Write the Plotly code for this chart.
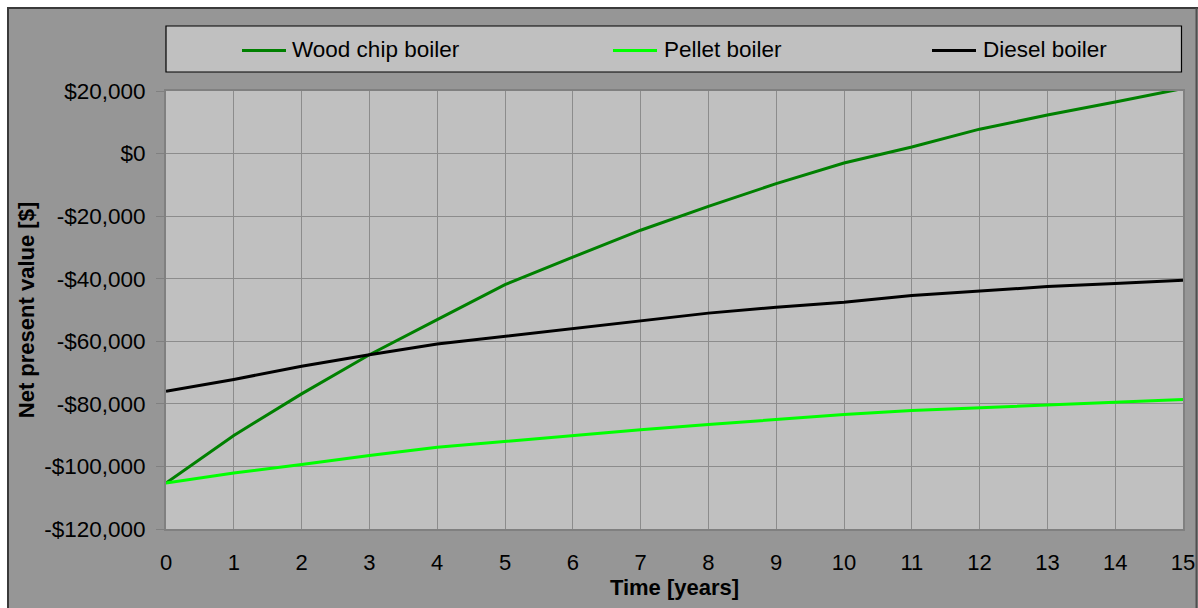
import plotly.graph_objects as go

# ---- data ----
years = list(range(16))
wood_chip = [-105300, -90100, -76800, -64300, -53100, -41900, -33100, -24500,
             -16900, -9600, -3000, 2100, 7800, 12300, 16500, 20800]
pellet = [-105300, -102100, -99400, -96500, -93900, -92000, -90100, -88300,
          -86600, -85000, -83400, -82100, -81200, -80200, -79500, -78600]
diesel = [-76000, -72200, -68000, -64300, -60900, -58400, -55800, -53300,
          -51000, -49100, -47500, -45400, -44000, -42500, -41500, -40500]

series_names = ["Wood chip boiler", "Pellet boiler", "Diesel boiler"]
series_colors = ["#008000", "#00FF00", "#000000"]
y_tick_vals = [20000, 0, -20000, -40000, -60000, -80000, -100000, -120000]
y_tick_labels = ["$20,000", "$0", "-$20,000", "-$40,000", "-$60,000",
                 "-$80,000", "-$100,000", "-$120,000"]
x_title = "Time [years]"
y_title = "Net present value [$]"

# ---- geometry (window pixels; body margin removed) ----
W, H = 1198, 608
L, R, T, B = 166, 15, 91, 79
PW, PH = W - L - R, H - T - B


def px(x):
    return (x - L) / PW


def py(y):
    return (H - B - y) / PH


FONT = "Liberation Sans, Arial, sans-serif"

fig = go.Figure()
for name, vals, col in zip(series_names, [wood_chip, pellet, diesel], series_colors):
    fig.add_trace(go.Scatter(x=years, y=vals, mode="lines", name=name,
                             line=dict(color=col, width=3), showlegend=False))

shapes = []
# white page edges at top and left
shapes.append(dict(type="rect", xref="paper", yref="paper", x0=px(-2), x1=px(W + 2),
                   y0=py(7), y1=py(-2), fillcolor="white", line=dict(width=0), layer="above"))
shapes.append(dict(type="rect", xref="paper", yref="paper", x0=px(-2), x1=px(7),
                   y0=py(H + 2), y1=py(-2), fillcolor="white", line=dict(width=0), layer="above"))
# frame
shapes.append(dict(type="line", xref="paper", yref="paper", x0=px(8), x1=px(8),
                   y0=py(H + 2), y1=py(7), line=dict(color="#3a3a3a", width=2), layer="above"))
shapes.append(dict(type="line", xref="paper", yref="paper", x0=px(7), x1=px(W + 2),
                   y0=py(8), y1=py(8), line=dict(color="#3a3a3a", width=2), layer="above"))
shapes.append(dict(type="line", xref="paper", yref="paper", x0=px(1196.5), x1=px(1196.5),
                   y0=py(H + 2), y1=py(8), line=dict(color="#505050", width=2), layer="above"))
# legend box
shapes.append(dict(type="rect", xref="paper", yref="paper", x0=px(166), x1=px(1181.5),
                   y0=py(72), y1=py(26), fillcolor="#C0C0C0",
                   line=dict(color="#000000", width=1.2), layer="above"))

annotations = []
leg_line_x = [242, 613, 932]
leg_text_x = [290, 662, 981]
for name, col, lx, tx in zip(series_names, series_colors, leg_line_x, leg_text_x):
    shapes.append(dict(type="line", xref="paper", yref="paper", x0=px(lx), x1=px(lx + 44),
                       y0=py(50.5), y1=py(50.5), line=dict(color=col, width=3), layer="above"))
    annotations.append(dict(xref="paper", yref="paper", x=px(tx), y=py(49.5),
                            xanchor="left", yanchor="middle", text=name, showarrow=False,
                            font=dict(family=FONT, size=22.5, color="#000000")))

fig.update_layout(
    width=W, height=H, autosize=False,
    margin=dict(l=L, r=R, t=T, b=B, pad=0, autoexpand=False),
    paper_bgcolor="#969696",
    plot_bgcolor="#C0C0C0",
    font=dict(family=FONT, size=22, color="#000000"),
    shapes=shapes,
    annotations=annotations,
    showlegend=False,
)
fig.update_xaxes(
    range=[0, 15], tickmode="array", tickvals=years, ticktext=[str(v) for v in years],
    automargin=False,
    showgrid=True, gridcolor="#8C8C8C", gridwidth=1,
    showline=True, linecolor="#808080", linewidth=2, mirror=True,
    ticks="", ticklabelstandoff=13, zeroline=False,
    tickfont=dict(family=FONT, size=22, color="#000000"),
    title=dict(text="<b>" + x_title + "</b>", standoff=4,
               font=dict(family=FONT, size=22, color="#000000")),
)
fig.update_yaxes(
    range=[-120000, 20000], tickmode="array", tickvals=y_tick_vals, ticktext=y_tick_labels,
    automargin=False,
    showgrid=True, gridcolor="#8C8C8C", gridwidth=1,
    showline=True, linecolor="#808080", linewidth=2, mirror=True,
    ticks="outside", ticklen=8, tickcolor="#808080", ticklabelstandoff=6, zeroline=False,
    tickfont=dict(family=FONT, size=22.5, color="#000000"),
    title=dict(text="<b>" + y_title + "</b>", standoff=3,
               font=dict(family=FONT, size=22, color="#000000")),
)

fig.write_html(
    "out.html",
    config={"responsive": False, "displayModeBar": False},
    post_script="document.body.style.margin='0';"
                "document.documentElement.style.overflow='hidden';"
                "document.body.style.overflow='hidden';",
)
